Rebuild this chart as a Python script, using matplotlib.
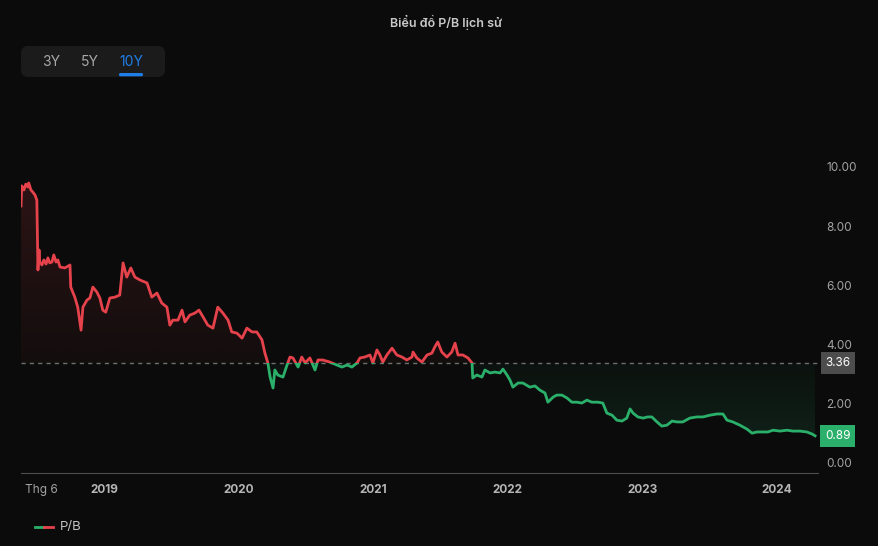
import matplotlib.pyplot as plt
import matplotlib.dates as mdates
import matplotlib.transforms as mtransforms
import numpy as np
import pandas as pd
from matplotlib.colors import to_rgb
from matplotlib.lines import Line2D
from matplotlib.patches import Rectangle, FancyBboxPatch, PathPatch
from matplotlib.path import Path

dates = ['2018-05-21', '2018-05-23', '2018-05-29', '2018-06-03', '2018-06-09', '2018-06-11',
         '2018-06-17', '2018-06-22', '2018-06-28', '2018-07-03', '2018-07-06', '2018-07-09',
         '2018-07-11', '2018-07-17', '2018-07-22', '2018-07-28', '2018-08-02', '2018-08-07',
         '2018-08-13', '2018-08-18', '2018-08-24', '2018-08-29', '2018-09-04', '2018-09-17',
         '2018-10-01', '2018-10-03', '2018-10-14', '2018-10-22', '2018-10-31', '2018-11-05',
         '2018-11-16', '2018-11-24', '2018-12-02', '2018-12-13', '2018-12-21', '2018-12-29',
         '2019-01-06', '2019-01-17', '2019-01-31', '2019-02-13', '2019-02-22', '2019-03-04',
         '2019-03-15', '2019-03-26', '2019-04-09', '2019-04-28', '2019-05-11', '2019-05-25',
         '2019-06-07', '2019-06-21', '2019-06-29', '2019-07-07', '2019-07-21', '2019-08-01',
         '2019-08-09', '2019-08-22', '2019-09-05', '2019-09-16', '2019-09-27', '2019-10-10',
         '2019-10-24', '2019-11-06', '2019-11-20', '2019-12-04', '2019-12-14', '2019-12-28',
         '2020-01-11', '2020-01-24', '2020-02-07', '2020-02-20', '2020-03-05', '2020-03-13',
         '2020-03-21', '2020-03-27', '2020-04-04', '2020-04-09', '2020-04-17', '2020-05-01',
         '2020-05-12', '2020-05-20', '2020-05-28', '2020-06-11', '2020-06-21', '2020-06-30',
         '2020-07-13', '2020-07-27', '2020-08-04', '2020-08-17', '2020-09-05', '2020-09-24',
         '2020-10-08', '2020-10-22', '2020-11-04', '2020-11-18', '2020-11-26', '2020-12-09',
         '2020-12-23', '2020-12-31', '2021-01-11', '2021-01-19', '2021-01-27', '2021-02-07',
         '2021-02-21', '2021-03-06', '2021-03-20', '2021-04-02', '2021-04-16', '2021-04-19',
         '2021-04-29', '2021-05-13', '2021-05-27', '2021-06-09', '2021-06-17', '2021-06-25',
         '2021-07-06', '2021-07-20', '2021-08-02', '2021-08-11', '2021-08-19', '2021-09-01',
         '2021-09-15', '2021-09-26', '2021-09-28', '2021-10-09', '2021-10-23', '2021-10-31',
         '2021-11-14', '2021-11-27', '2021-12-11', '2021-12-19', '2021-12-30', '2022-01-07',
         '2022-01-15', '2022-01-29', '2022-02-11', '2022-03-02', '2022-03-16', '2022-03-29',
         '2022-04-12', '2022-04-20', '2022-05-04', '2022-05-14', '2022-05-28', '2022-06-11',
         '2022-06-24', '2022-07-08', '2022-07-21', '2022-08-04', '2022-08-17', '2022-09-03',
         '2022-09-16', '2022-09-27', '2022-10-11', '2022-10-24', '2022-11-07', '2022-11-20',
         '2022-11-29', '2022-12-07', '2022-12-20', '2023-01-03', '2023-01-16', '2023-01-27',
         '2023-02-10', '2023-02-23', '2023-03-09', '2023-03-23', '2023-04-05', '2023-04-21',
         '2023-05-10', '2023-05-29', '2023-06-15', '2023-07-04', '2023-07-23', '2023-08-08',
         '2023-08-19', '2023-09-04', '2023-09-23', '2023-10-12', '2023-10-26', '2023-11-08',
         '2023-11-22', '2023-12-08', '2023-12-22', '2024-01-10', '2024-01-29', '2024-02-14',
         '2024-03-04', '2024-03-23', '2024-04-06', '2024-04-14']
pb = [8.68, 9.36, 9.22, 9.42, 9.32, 9.46, 9.22, 9.15, 9.05, 8.88, 6.51, 7.19,
      6.78, 6.68, 6.85, 6.71, 6.92, 6.75, 6.78, 7.02, 6.78, 6.85, 6.61, 6.58,
      6.68, 5.93, 5.59, 5.25, 4.47, 5.25, 5.49, 5.56, 5.93, 5.76, 5.56, 5.15,
      5.08, 5.56, 5.59, 5.66, 6.75, 6.27, 6.58, 6.27, 6.17, 6.07, 5.59, 5.73,
      5.39, 5.25, 4.64, 4.81, 4.81, 5.15, 4.75, 4.98, 5.05, 5.15, 4.92, 4.64,
      4.54, 5.25, 5.05, 4.81, 4.41, 4.37, 4.20, 4.54, 4.41, 4.41, 4.14, 3.69,
      3.36, 2.88, 2.51, 3.12, 2.95, 2.88, 3.29, 3.56, 3.53, 3.22, 3.56, 3.36,
      3.53, 3.12, 3.46, 3.46, 3.39, 3.29, 3.22, 3.29, 3.22, 3.36, 3.53, 3.56,
      3.63, 3.36, 3.80, 3.63, 3.39, 3.63, 3.86, 3.63, 3.56, 3.46, 3.56, 3.73,
      3.53, 3.39, 3.63, 3.69, 3.90, 4.07, 3.73, 3.56, 3.73, 4.03, 3.63, 3.63,
      3.53, 3.36, 2.85, 2.95, 2.88, 3.12, 3.02, 3.05, 3.02, 3.15, 2.95, 2.78,
      2.54, 2.68, 2.68, 2.54, 2.58, 2.44, 2.34, 2.03, 2.20, 2.27, 2.27, 2.17,
      2.03, 2.03, 2.00, 2.10, 2.03, 2.03, 2.00, 1.66, 1.59, 1.42, 1.39, 1.49,
      1.80, 1.66, 1.53, 1.49, 1.53, 1.53, 1.36, 1.22, 1.25, 1.39, 1.36, 1.36,
      1.49, 1.53, 1.53, 1.59, 1.63, 1.63, 1.42, 1.36, 1.25, 1.12, 0.98, 1.02,
      1.02, 1.02, 1.08, 1.05, 1.08, 1.05, 1.05, 1.02, 0.95, 0.89]
base_value = 3.36
tick_dates = ['2018-06-01', '2019-01-01', '2020-01-01', '2021-01-01', '2022-01-01', '2023-01-01', '2024-01-01']
tick_labels = ['Thg 6', '2019', '2020', '2021', '2022', '2023', '2024']
y_ticks = [0, 2, 4, 6, 8, 10]
ranges = ['3Y', '5Y', '10Y']

bg = '#0b0b0b'
red = '#e5424b'
green = '#2ab06a'
grey_txt = '#a3a3a3'

plt.rcParams['font.family'] = ['Inter', 'DejaVu Sans']
fig = plt.figure(figsize=(8.79, 5.46), dpi=100, facecolor=bg)
ax = fig.add_axes([21 / 879, 73 / 546, 797 / 879, 378 / 546], facecolor=bg)

x = mdates.date2num(pd.to_datetime(dates))
y = np.array(pb)
x0, x1 = x[0], mdates.date2num(pd.Timestamp('2024-04-22'))
y0, y1 = -0.37, 12.44

# area between the line and the baseline, used as clip for the gradients
poly = ax.fill_between(x, y, base_value, color='none', lw=0)
clip = PathPatch(Path.make_compound_path(*poly.get_paths()), transform=ax.transData, fc='none', ec='none')
ax.add_patch(clip)

t = np.linspace(0, 1, 256)[:, None]
top = np.zeros((256, 1, 4))
top[..., :3] = to_rgb(red)
top[..., 3] = 0.04 + 0.17 * t
im = ax.imshow(top, extent=[x0, x1, base_value, y1], origin='lower', aspect='auto',
               interpolation='bilinear', zorder=1)
im.set_clip_path(clip)
bot = np.zeros((256, 1, 4))
bot[..., :3] = to_rgb(green)
bot[..., 3] = 0.17 - 0.13 * t
im = ax.imshow(bot, extent=[x0, x1, y0, base_value], origin='lower', aspect='auto',
               interpolation='bilinear', zorder=1)
im.set_clip_path(clip)

# red above baseline, green below
for color, (ry0, ry1) in [(red, (base_value, y1)), (green, (y0, base_value))]:
    line, = ax.plot(x, y, color=color, lw=2, zorder=3, solid_joinstyle='round')
    line.set_clip_path(Rectangle((x0, ry0), x1 - x0, ry1 - ry0, transform=ax.transData))

ax.axhline(base_value, color='#6e6e6e', lw=1, ls=(0, (3, 3)), zorder=2)

ax.set_xlim(x0, x1)
ax.set_ylim(y0, y1)
for s in ['top', 'left', 'right']:
    ax.spines[s].set_visible(False)
ax.spines['bottom'].set_color('#4d4d4d')

ax.yaxis.tick_right()
ax.set_yticks(y_ticks)
ax.yaxis.set_major_formatter('{x:.2f}')
ax.tick_params(axis='y', length=0, pad=6, colors=grey_txt, labelsize=8.5)
ax.set_xticks(mdates.date2num(pd.to_datetime(tick_dates)))
ax.set_xticklabels(tick_labels)
ax.tick_params(axis='x', length=0, pad=8, colors=grey_txt, labelsize=8.5)
labels = ax.get_xticklabels()
labels[0].set_ha('left')
for lb in labels[1:]:
    lb.set_fontweight('bold')
    lb.set_color('#b5b5b5')

lab = mtransforms.blended_transform_factory(ax.transAxes, ax.transData)
ax.text(1.025, base_value, f'{base_value:.2f}', transform=lab, ha='center', va='center',
        color='white', fontsize=8.5, clip_on=False,
        bbox=dict(boxstyle='square,pad=0.4', fc='#4d4d4d', ec='none'))
ax.text(1.025, pb[-1], f'{pb[-1]:.2f}', transform=lab, ha='center', va='center',
        color='white', fontsize=8.5, clip_on=False,
        bbox=dict(boxstyle='square,pad=0.4', fc=green, ec='none'))

fig.text(0.508, 1 - 22 / 546, 'Biểu đồ P/B lịch sử', ha='center', va='center',
         color='#c8c8c8', fontsize=9, fontweight='semibold')

# range buttons
fig.patches.append(FancyBboxPatch((0.21, 4.69), 1.44, 0.31, boxstyle='round,pad=0,rounding_size=0.07',
                                  transform=fig.dpi_scale_trans, fc='#1b1b1b', ec='none'))
for name, px in zip(ranges, [51, 89.5, 131]):
    fig.text(px / 879, 1 - 61.5 / 546, name, ha='center', va='center', fontsize=10,
             color='#1e7ee8' if name == '10Y' else '#a8a8a8')
fig.patches.append(FancyBboxPatch((1.19, 5.46 - 0.763), 0.24, 0.033,
                                  boxstyle='round,pad=0,rounding_size=0.015',
                                  transform=fig.dpi_scale_trans, fc='#1e7ee8', ec='none'))

# legend
ly = 1 - 527 / 546
fig.add_artist(Line2D([35 / 879, 44 / 879], [ly, ly], color=green, lw=2, transform=fig.transFigure))
fig.add_artist(Line2D([44 / 879, 53 / 879], [ly, ly], color=red, lw=2, transform=fig.transFigure))
fig.text(60 / 879, ly, 'P/B', ha='left', va='center', fontsize=9.5, color='#c0c0c0')

fig.savefig('out.png', dpi=100, facecolor=bg)
